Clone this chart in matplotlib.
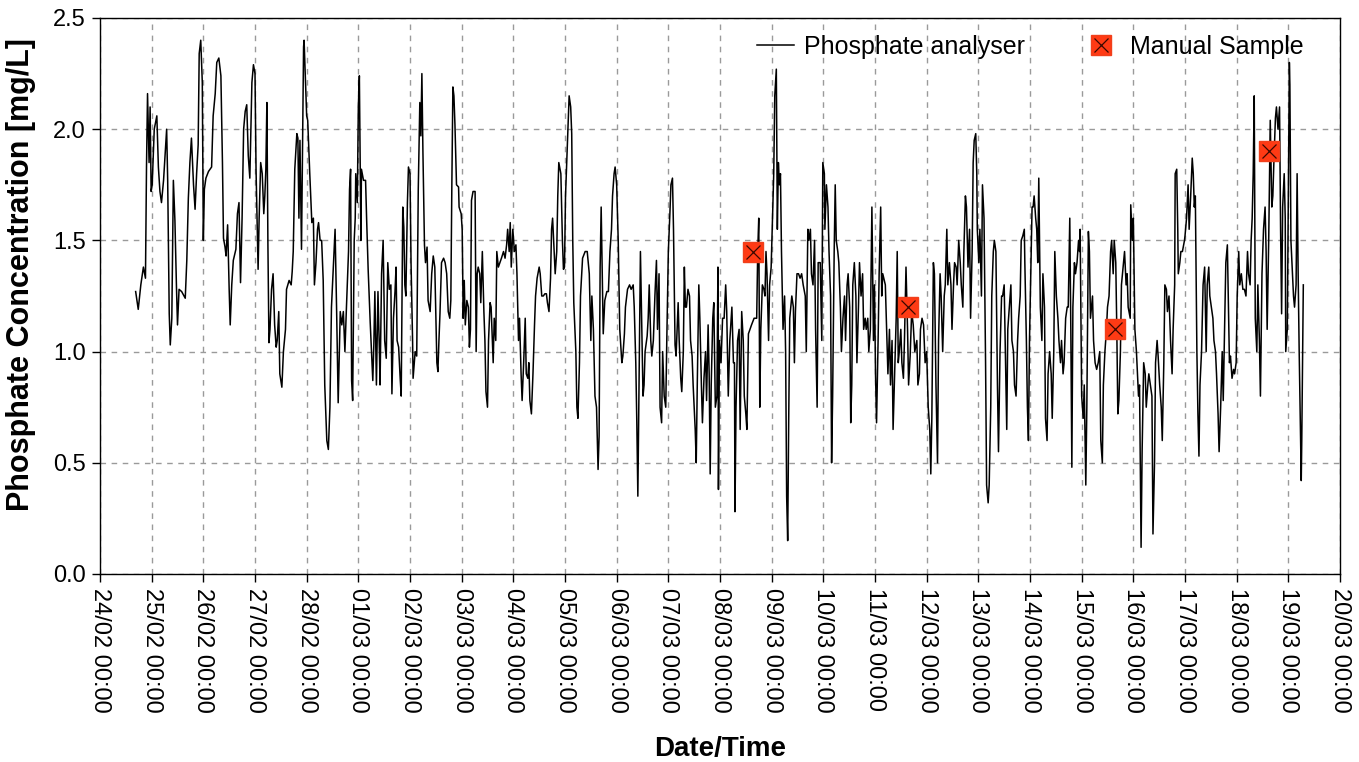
import matplotlib
matplotlib.use("Agg")
import matplotlib.pyplot as plt
import matplotlib.dates as mdates
from matplotlib.ticker import FormatStrFormatter
import numpy as np
import pandas as pd

plt.rcParams['font.family'] = ['Liberation Sans', 'DejaVu Sans']

# analyser readings: time in days after 24/02 00:00, concentration in mg/L
days = [
    0.69, 0.74, 0.79, 0.84, 0.88, 0.90, 0.92, 0.95, 0.97, 0.99, 1.01, 1.05, 1.10, 1.13, 1.16, 1.19,
    1.23, 1.29, 1.31, 1.34, 1.36, 1.39, 1.42, 1.45, 1.48, 1.50, 1.53, 1.58, 1.65, 1.68, 1.71, 1.74,
    1.77, 1.81, 1.84, 1.87, 1.90, 1.92, 1.95, 1.98, 2.00, 2.02, 2.05, 2.10, 2.16, 2.19, 2.23, 2.26,
    2.30, 2.34, 2.37, 2.39, 2.42, 2.44, 2.47, 2.50, 2.52, 2.55, 2.58, 2.63, 2.66, 2.69, 2.72, 2.75,
    2.78, 2.81, 2.84, 2.87, 2.90, 2.94, 2.97,
    3.00, 3.02, 3.05, 3.06, 3.08, 3.11, 3.14, 3.17, 3.19, 3.21, 3.23, 3.25, 3.27, 3.29, 3.32, 3.35,
    3.38, 3.41, 3.43, 3.46, 3.48, 3.52, 3.55, 3.59, 3.61, 3.66, 3.70, 3.72, 3.74, 3.77, 3.81, 3.83,
    3.85, 3.87, 3.90, 3.94, 3.95, 3.98, 4.00, 4.02, 4.04, 4.06, 4.10, 4.13, 4.15, 4.18, 4.21, 4.23,
    4.26, 4.29, 4.32, 4.35, 4.39, 4.42, 4.45, 4.48, 4.52, 4.55, 4.58, 4.61, 4.65, 4.68, 4.71, 4.74,
    4.77, 4.81, 4.83, 4.85, 4.87, 4.89, 4.92, 4.94, 4.95, 4.98, 5.00, 5.02, 5.05, 5.06, 5.10, 5.14,
    5.16, 5.19, 5.23, 5.26, 5.28, 5.30, 5.32, 5.35, 5.38, 5.41, 5.42, 5.45, 5.48, 5.51, 5.54, 5.57,
    5.60, 5.63, 5.65, 5.68, 5.71, 5.73, 5.75, 5.78, 5.81, 5.83, 5.86, 5.88, 5.90, 5.92, 5.95, 5.97,
    6.00,
    6.02, 6.05, 6.06, 6.10, 6.13, 6.16, 6.19, 6.21, 6.23, 6.25, 6.28, 6.30, 6.33, 6.35, 6.39, 6.42,
    6.45, 6.48, 6.52, 6.54, 6.56, 6.58, 6.61, 6.65, 6.68, 6.71, 6.74, 6.77, 6.79, 6.81, 6.83, 6.85,
    6.87, 6.90, 6.94, 6.95, 6.99, 7.01, 7.03, 7.05, 7.07, 7.10, 7.13, 7.15, 7.17, 7.19, 7.22, 7.26,
    7.28, 7.30, 7.32, 7.35, 7.37, 7.40, 7.43, 7.45, 7.47, 7.50, 7.52, 7.55, 7.57, 7.60, 7.61, 7.63,
    7.66, 7.68, 7.71, 7.74, 7.77, 7.81, 7.84, 7.87, 7.89, 7.92, 7.94, 7.96, 7.99, 8.02, 8.05, 8.07,
    8.10, 8.12, 8.15, 8.17, 8.20, 8.23, 8.25, 8.28, 8.30, 8.32, 8.35, 8.38, 8.41, 8.43, 8.46, 8.50,
    8.52, 8.55, 8.58, 8.61, 8.64, 8.66, 8.69, 8.72, 8.74, 8.76, 8.79, 8.81, 8.84, 8.86, 8.88, 8.92,
    8.95, 8.97,
    8.99, 9.01, 9.05, 9.08, 9.11, 9.13, 9.15, 9.17, 9.21, 9.23, 9.25, 9.28, 9.30, 9.34, 9.39, 9.43,
    9.47, 9.50, 9.52, 9.55, 9.58, 9.61, 9.64, 9.66, 9.68, 9.70, 9.72, 9.74, 9.77, 9.81, 9.84, 9.87,
    9.90, 9.92, 9.95, 9.97, 10.00, 10.03, 10.06, 10.10, 10.12, 10.15, 10.17, 10.21, 10.25, 10.28, 10.32, 10.34,
    10.37, 10.39, 10.41, 10.43, 10.46, 10.48, 10.51, 10.53, 10.55, 10.59, 10.61, 10.63, 10.66, 10.68, 10.71, 10.74,
    10.77, 10.79, 10.82, 10.84, 10.87, 10.89, 10.92, 10.95, 10.97, 11.00, 11.03, 11.05, 11.08, 11.10, 11.13, 11.15,
    11.17, 11.19, 11.21, 11.24, 11.26, 11.29, 11.31, 11.33, 11.35, 11.38, 11.41, 11.43, 11.46, 11.48, 11.52, 11.54,
    11.56, 11.59, 11.61, 11.64, 11.66, 11.69, 11.72, 11.74, 11.77, 11.79, 11.81, 11.83, 11.86, 11.88, 11.91, 11.94,
    11.96, 11.97,
    11.99, 12.02, 12.05, 12.08, 12.11, 12.13, 12.16, 12.19, 12.23, 12.26, 12.28, 12.29, 12.31, 12.34, 12.37, 12.39,
    12.42, 12.45, 12.47, 12.50, 12.52, 12.55, 12.58, 12.61, 12.66, 12.71, 12.73, 12.75, 12.77, 12.79, 12.82, 12.85,
    12.87, 12.89, 12.91, 12.94, 12.96, 12.99, 13.01, 13.04, 13.06, 13.09, 13.11, 13.13, 13.15, 13.17, 13.19, 13.22,
    13.25, 13.27, 13.29, 13.31, 13.33, 13.35, 13.39, 13.42, 13.44, 13.46, 13.49, 13.52, 13.55, 13.58, 13.61, 13.65,
    13.67, 13.70, 13.72, 13.75, 13.77, 13.80, 13.83, 13.85, 13.88, 13.90, 13.94, 13.97, 13.99, 14.02, 14.03, 14.06,
    14.09, 14.11, 14.14, 14.16, 14.18, 14.21, 14.23, 14.25, 14.28, 14.30, 14.33, 14.35, 14.38, 14.41, 14.43, 14.46,
    14.48, 14.51, 14.53, 14.55, 14.57, 14.60, 14.63, 14.65, 14.68, 14.70, 14.73, 14.76, 14.78, 14.81, 14.83, 14.86,
    14.88, 14.91, 14.94, 14.95, 14.97, 14.99, 15.01, 15.03,
    15.06, 15.08, 15.11, 15.13, 15.15, 15.17, 15.20, 15.23, 15.25, 15.28, 15.30, 15.33, 15.35, 15.38, 15.41, 15.43,
    15.45, 15.47, 15.50, 15.52, 15.55, 15.57, 15.60, 15.63, 15.65, 15.68, 15.71, 15.74, 15.77, 15.81, 15.83, 15.86,
    15.88, 15.91, 15.94, 15.97, 16.00, 16.03, 16.06, 16.08, 16.10, 16.13, 16.15, 16.18, 16.21, 16.23, 16.26, 16.28,
    16.31, 16.34, 16.36, 16.39, 16.41, 16.44, 16.47, 16.49, 16.52, 16.54, 16.57, 16.59, 16.62, 16.65, 16.67, 16.70,
    16.72, 16.75, 16.77, 16.80, 16.83, 16.85, 16.88, 16.90, 16.92, 16.95, 16.97, 16.98, 17.01, 17.03, 17.06, 17.08,
    17.11, 17.14, 17.16, 17.19, 17.21, 17.24, 17.26, 17.29, 17.31, 17.34, 17.37, 17.39, 17.42, 17.45, 17.47, 17.50,
    17.52, 17.55, 17.57, 17.60, 17.63, 17.65, 17.68, 17.70, 17.73, 17.76, 17.78, 17.81, 17.83, 17.86, 17.89, 17.90,
    17.93, 17.95, 17.97, 17.99, 18.01, 18.04,
    18.06, 18.08, 18.11, 18.13, 18.15, 18.17, 18.20, 18.23, 18.25, 18.28, 18.30, 18.33, 18.35, 18.38, 18.41, 18.43,
    18.46, 18.48, 18.51, 18.54, 18.56, 18.59, 18.61, 18.64, 18.66, 18.69, 18.72, 18.74, 18.77, 18.79, 18.81, 18.83,
    18.86, 18.88, 18.91, 18.94, 18.96, 18.97, 19.00, 19.03, 19.05, 19.08, 19.10, 19.13, 19.15, 19.17, 19.21, 19.23,
    19.26, 19.29, 19.32, 19.35, 19.37, 19.40, 19.42, 19.45, 19.48, 19.50, 19.53, 19.56, 19.58, 19.61, 19.63, 19.66,
    19.68, 19.70, 19.72, 19.75, 19.77, 19.81, 19.83, 19.86, 19.88, 19.90, 19.94, 19.95, 19.98, 20.00, 20.03, 20.06,
    20.10, 20.12, 20.15, 20.17, 20.20, 20.23, 20.25, 20.28, 20.30, 20.33, 20.36, 20.38, 20.41, 20.43, 20.46, 20.48,
    20.51, 20.54, 20.56, 20.59, 20.61, 20.64, 20.66, 20.69, 20.72, 20.75, 20.77, 20.80, 20.81, 20.84, 20.86, 20.87,
    20.90, 20.92, 20.95, 20.99,
    21.00, 21.03, 21.06, 21.08, 21.11, 21.14, 21.16, 21.18, 21.20, 21.23, 21.25, 21.27, 21.29, 21.32, 21.35, 21.38,
    21.41, 21.43, 21.46, 21.48, 21.51, 21.54, 21.56, 21.59, 21.61, 21.64, 21.66, 21.69, 21.72, 21.74, 21.77, 21.79,
    21.82, 21.84, 21.86, 21.88, 21.91, 21.94, 21.96, 21.99, 22.01, 22.04, 22.06, 22.09, 22.12, 22.15, 22.18, 22.21,
    22.23, 22.26, 22.28, 22.30, 22.32, 22.34, 22.36, 22.39, 22.41, 22.44, 22.46, 22.49, 22.52, 22.55, 22.57, 22.59,
    22.62, 22.65, 22.68, 22.70, 22.72, 22.75, 22.77, 22.80, 22.83, 22.85, 22.87, 22.89, 22.92, 22.94, 22.95, 22.98,
    23.00, 23.02, 23.03, 23.05, 23.07, 23.10, 23.12, 23.15, 23.17, 23.19, 23.21, 23.23, 23.25, 23.26, 23.29,
]
phosphate = [
    1.27, 1.19, 1.30, 1.38, 1.33, 1.83, 2.16, 1.85, 2.10, 1.72, 1.75, 2.00, 2.06, 1.83, 1.72, 1.67,
    1.77, 2.00, 1.77, 1.17, 1.03, 1.15, 1.77, 1.59, 1.29, 1.12, 1.28, 1.27, 1.24, 1.41, 1.69, 1.85,
    1.96, 1.75, 1.64, 1.80, 1.93, 2.34, 2.40, 2.21, 1.50, 1.73, 1.78, 1.81, 1.83, 2.06, 2.16, 2.30,
    2.32, 2.24, 1.85, 1.51, 1.47, 1.43, 1.57, 1.28, 1.12, 1.30, 1.41, 1.46, 1.62, 1.67, 1.31, 1.60,
    2.00, 2.08, 2.11, 1.88, 1.78, 2.21, 2.29,
    2.25, 1.82, 1.47, 1.37, 1.60, 1.85, 1.80, 1.62, 1.70, 1.82, 2.12, 1.48, 1.04, 1.10, 1.28, 1.35,
    1.12, 1.02, 1.05, 1.18, 0.90, 0.84, 1.00, 1.10, 1.28, 1.32, 1.30, 1.36, 1.45, 1.82, 1.98, 1.96,
    1.60, 1.95, 1.46, 2.37, 2.40, 2.20, 2.06, 2.04, 1.92, 1.80, 1.58, 1.60, 1.30, 1.40, 1.55, 1.58,
    1.50, 1.50, 1.32, 0.85, 0.60, 0.56, 0.75, 1.20, 1.40, 1.55, 1.18, 0.77, 1.18, 1.12, 1.18, 1.00,
    1.20, 1.45, 1.73, 1.82, 0.87, 0.78, 1.50, 1.60, 1.80, 1.67, 2.10, 2.24, 1.50, 1.82, 1.77, 1.77,
    1.60, 1.37, 1.13, 0.97, 0.87, 1.03, 1.27, 0.85, 1.27, 0.98, 0.85, 1.35, 1.50, 1.05, 0.97, 1.40,
    1.28, 1.30, 0.81, 1.15, 1.27, 1.38, 1.05, 1.02, 0.88, 0.80, 1.65, 1.56, 1.30, 1.25, 1.67, 1.83,
    1.80,
    1.40, 1.05, 0.88, 1.00, 0.98, 1.73, 2.12, 1.97, 2.25, 1.90, 1.48, 1.40, 1.47, 1.23, 1.18, 1.35,
    1.43, 1.38, 0.95, 0.91, 1.05, 1.17, 1.40, 1.42, 1.40, 1.35, 1.18, 1.15, 1.23, 1.75, 2.19, 2.15,
    2.02, 1.75, 1.74, 1.65, 1.62, 1.55, 1.15, 1.32, 1.12, 1.23, 1.20, 1.02, 1.10, 1.68, 1.72, 1.72,
    1.00, 1.35, 1.38, 1.35, 1.22, 1.45, 1.18, 1.05, 0.82, 0.75, 1.05, 1.22, 1.20, 1.02, 0.95, 1.15,
    1.05, 1.45, 1.38, 1.40, 1.42, 1.45, 1.42, 1.48, 1.55, 1.45, 1.58, 1.38, 1.55, 1.45, 1.48, 1.35,
    1.05, 1.15, 0.90, 0.78, 0.95, 1.15, 0.90, 0.88, 0.95, 0.78, 0.72, 0.90, 1.12, 1.25, 1.33, 1.38,
    1.35, 1.25, 1.25, 1.26, 1.26, 1.22, 1.18, 1.33, 1.55, 1.60, 1.45, 1.35, 1.45, 1.70, 1.85, 1.80,
    1.50, 1.37,
    1.38, 1.70, 1.95, 2.15, 2.10, 1.98, 1.50, 1.22, 1.00, 0.75, 0.70, 0.95, 1.25, 1.42, 1.45, 1.45,
    1.35, 1.05, 1.25, 1.10, 0.80, 0.75, 0.47, 0.62, 1.38, 1.65, 1.35, 1.08, 1.23, 1.27, 1.27, 1.45,
    1.55, 1.70, 1.80, 1.83, 1.75, 1.50, 1.10, 0.95, 0.98, 1.08, 1.20, 1.28, 1.30, 1.28, 1.30, 1.20,
    0.95, 0.68, 0.35, 0.80, 1.45, 1.20, 0.80, 0.85, 1.00, 1.07, 1.15, 1.30, 1.05, 0.98, 1.05, 1.25,
    1.41, 1.10, 1.35, 0.75, 0.68, 1.00, 0.80, 0.75, 1.05, 1.45, 1.62, 1.75, 1.78, 1.55, 1.03, 0.98,
    1.10, 1.22, 1.05, 0.88, 0.82, 1.00, 1.38, 1.20, 1.20, 1.28, 1.25, 1.05, 0.98, 0.85, 0.65, 0.50,
    0.85, 1.30, 1.15, 0.85, 0.68, 0.88, 1.00, 0.78, 1.12, 0.90, 0.45, 0.85, 1.15, 1.22, 0.75, 0.80,
    1.38, 0.38,
    1.05, 0.95, 1.15, 1.15, 1.30, 1.18, 0.80, 1.05, 1.20, 0.95, 0.95, 0.28, 0.75, 1.05, 1.10, 0.65,
    1.18, 1.05, 0.80, 0.72, 0.65, 1.08, 1.10, 1.12, 1.15, 1.15, 1.45, 1.60, 0.75, 1.10, 1.30, 1.28,
    1.25, 1.45, 1.35, 1.05, 1.30, 1.38, 1.55, 1.80, 2.15, 2.27, 1.55, 1.85, 1.75, 1.80, 1.45, 1.10,
    1.25, 1.00, 0.35, 0.15, 0.70, 1.15, 1.25, 1.20, 0.95, 1.18, 1.35, 1.35, 1.33, 1.35, 1.30, 1.25,
    1.00, 1.55, 1.50, 1.55, 1.35, 1.30, 1.50, 1.10, 0.75, 1.40, 1.40, 1.05, 1.85, 1.80, 1.55, 1.75,
    1.65, 1.45, 1.25, 0.50, 0.80, 1.45, 1.75, 1.50, 1.45, 1.40, 1.20, 1.00, 1.15, 1.25, 1.05, 1.30,
    1.35, 1.20, 0.68, 0.85, 1.30, 1.40, 1.25, 0.95, 1.20, 1.40, 1.25, 1.35, 1.10, 1.15, 1.10, 1.15,
    1.00, 1.10, 1.65, 1.45, 1.05, 1.30, 0.90, 0.68,
    1.05, 1.35, 1.65, 1.25, 1.35, 1.33, 1.30, 1.05, 0.90, 1.10, 0.85, 1.05, 0.65, 0.90, 1.15, 1.45,
    0.95, 1.00, 1.10, 0.95, 0.88, 1.05, 1.38, 1.10, 0.85, 0.98, 1.18, 1.12, 1.00, 1.05, 0.85, 0.90,
    1.10, 1.15, 1.12, 0.95, 1.00, 0.75, 0.65, 0.45, 0.70, 1.40, 1.35, 0.85, 0.50, 1.05, 1.35, 1.25,
    1.00, 1.25, 1.30, 1.55, 1.30, 1.40, 1.30, 1.10, 1.30, 1.40, 1.38, 1.30, 1.50, 1.40, 1.30, 1.20,
    1.45, 1.70, 1.65, 1.38, 1.55, 1.15, 1.45, 1.85, 1.95, 1.98, 1.80, 1.55, 1.40, 1.55, 1.25, 1.75,
    1.60, 0.95, 0.40, 0.32, 0.40, 0.75, 1.25, 1.45, 1.50, 1.45, 0.85, 0.55, 1.00, 1.25, 1.25, 1.30,
    1.05, 0.65, 1.10, 1.20, 1.30, 1.05, 1.00, 0.85, 0.80, 1.05, 1.15, 1.25, 1.50, 1.52, 1.55, 1.40,
    1.05, 0.75, 0.60, 1.05, 1.30, 1.65,
    1.65, 1.70, 1.60, 1.55, 1.40, 1.78, 1.20, 1.05, 1.35, 1.20, 0.70, 0.60, 0.90, 1.00, 0.90, 0.70,
    1.00, 1.45, 1.25, 1.15, 1.05, 0.95, 1.05, 0.90, 0.95, 1.15, 1.20, 1.20, 1.60, 1.10, 0.48, 1.20,
    1.40, 1.35, 1.40, 1.50, 1.45, 1.55, 0.80, 0.70, 0.85, 0.40, 0.75, 1.54, 1.45, 1.15, 1.25, 1.05,
    0.95, 0.92, 0.95, 1.00, 0.60, 0.50, 0.85, 1.00, 1.10, 1.20, 1.25, 1.45, 1.50, 1.35, 1.50, 1.40,
    1.10, 0.72, 0.78, 1.00, 1.30, 1.40, 1.45, 1.30, 1.35, 1.20, 1.15, 1.66, 1.50, 1.60, 1.10, 1.00,
    0.80, 0.85, 0.12, 0.55, 0.95, 0.90, 0.75, 0.85, 0.90, 0.85, 0.80, 0.18, 0.50, 0.95, 1.05, 0.98,
    0.85, 0.75, 0.60, 0.95, 1.30, 1.28, 1.18, 1.25, 1.05, 0.90, 1.10, 1.30, 1.80, 1.82, 1.55, 1.35,
    1.40, 1.45, 1.45, 1.50,
    1.52, 1.60, 1.75, 1.55, 1.70, 1.87, 1.80, 1.65, 1.70, 1.00, 0.72, 0.53, 0.85, 1.00, 1.30, 1.38,
    1.00, 1.30, 1.38, 1.25, 1.20, 1.15, 1.05, 1.00, 0.90, 0.72, 0.55, 0.75, 1.00, 0.78, 1.15, 1.40,
    1.48, 1.20, 0.95, 0.98, 0.88, 0.92, 0.90, 0.95, 1.25, 1.45, 1.30, 1.35, 1.28, 1.28, 1.25, 1.45,
    1.35, 1.30, 1.50, 1.60, 1.80, 2.15, 1.15, 1.00, 1.30, 1.05, 0.80, 1.35, 1.55, 1.65, 1.45, 1.10,
    1.50, 2.04, 1.65, 1.70, 1.85, 2.05, 2.10, 2.00, 2.10, 1.55, 1.17, 1.65, 1.80, 1.60, 1.00, 1.10,
    1.70, 2.30, 2.20, 1.50, 1.40, 1.25, 1.20, 1.30, 1.80, 1.35, 1.00, 0.72, 0.42, 0.60, 1.30,
]

# manual grab samples
sample_days = [12.64, 15.64, 19.65, 22.63]
sample_conc = [1.45, 1.20, 1.10, 1.90]

start = pd.Timestamp('2009-02-24 00:00')
t = start + pd.to_timedelta(np.array(days), unit='D')
ts = start + pd.to_timedelta(np.array(sample_days), unit='D')

fig = plt.figure(figsize=(13.59, 7.62), dpi=100)
ax = fig.add_axes([100 / 1359, 1 - 574 / 762, 1240 / 1359, 556 / 762])

line, = ax.plot(t, phosphate, color='black', lw=1.1)
sq, = ax.plot(ts, sample_conc, ls='none', marker='s', ms=15,
              mfc='#ff3a14', mec='#f0401c', mew=1.0)
cross, = ax.plot(ts, sample_conc, ls='none', marker='x', ms=10,
                 mew=0.9, color='#3a0800')

ax.set_xlim(start, start + pd.Timedelta(days=24))
ax.set_ylim(0, 2.5)
ax.set_yticks(np.arange(0, 2.51, 0.5))
ax.yaxis.set_major_formatter(FormatStrFormatter('%.1f'))
ax.xaxis.set_major_locator(mdates.DayLocator())
ax.xaxis.set_major_formatter(mdates.DateFormatter('%d/%m %H:%M'))
plt.setp(ax.get_xticklabels(), rotation=270, ha='center', va='top')

ax.tick_params(direction='out', length=6, width=1, labelsize=17, pad=4)
ax.grid(True, color='#9a9a9a', lw=1.0, ls=(0, (4, 4)))
for s in ax.spines.values():
    s.set_linewidth(1.0)

ax.set_xlabel('Date/Time', fontsize=20, fontweight='bold', labelpad=17)
ax.set_ylabel('Phosphate Concentration [mg/L]', fontsize=22, fontweight='bold')
ax.yaxis.set_label_coords(-0.0515, 0.538)

ax.legend([line, (sq, cross)], ['Phosphate analyser', 'Manual Sample'],
          ncol=2, loc='upper right', bbox_to_anchor=(0.989, 1.01), frameon=False,
          fontsize=18, handlelength=1.5, handletextpad=0.4, columnspacing=2.3)

fig.savefig('out.png', dpi=100)
